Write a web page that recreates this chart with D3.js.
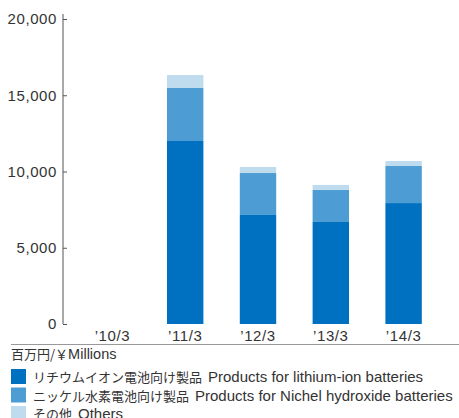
<!DOCTYPE html>
<html>
<head>
<meta charset="utf-8">
<script src="https://cdn.jsdelivr.net/npm/d3@7"></script>
<style>
  body { margin: 0; background: #fff; }
  text { font-family: "Liberation Sans", Arial, "Noto Sans CJK JP", sans-serif; fill: #333; }
  .jp { font-family: "Noto Sans CJK JP", sans-serif; }
</style>
</head>
<body>
<div id="chart"></div>
<script>
// data
const years = ["’10/3", "’11/3", "’12/3", "’13/3", "’14/3"];
const lithium = [0, 12000, 7150, 6690, 7930];
const nickel = [0, 3475, 2750, 2100, 2430];
const others = [0, 850, 395, 330, 330];
const yTicks = [0, 5000, 10000, 15000, 20000];

const seriesKeys = ["lithium", "nickel", "others"];
const seriesColors = {lithium: "#0070c0", nickel: "#4d9dd4", others: "#bfdcef"};
const legendJp = ["リチウムイオン電池向け製品", "ニッケル水素電池向け製品", "その他"];
const legendEn = ["Products for lithium-ion batteries", "Products for Nichel hydroxide batteries", "Others"];

const width = 459, height = 418;

const svg = d3.select("#chart").append("svg")
    .attr("width", width)
    .attr("height", height);

let rows = years.map((y, i) => ({year: y, lithium: lithium[i], nickel: nickel[i], others: others[i]}));
let stacked = d3.stack().keys(seriesKeys)(rows);

// scales
let x = d3.scaleBand()
    .domain(years)
    .range([76, 440])
    .paddingInner(0.5)
    .paddingOuter(0.25);

let y = d3.scaleLinear()
    .domain([0, 20000])
    .range([324, 19]);

// bars
svg.append("g").selectAll("g")
    .data(stacked)
    .enter().append("g")
    .attr("fill", d => seriesColors[d.key])
    .selectAll("rect")
    .data(d => d)
    .enter().append("rect")
    .attr("x", d => x(d.data.year))
    .attr("width", x.bandwidth())
    .attr("y", d => y(d[1]))
    .attr("height", d => y(d[0]) - y(d[1]));

// y axis
let yAxis = d3.axisRight(y)
    .tickValues(yTicks)
    .tickSize(4)
    .tickFormat(d3.format(","));

let yAxisGroup = svg.append("g")
    .attr("transform", "translate(63,0)")
    .call(yAxis);
yAxisGroup.select(".domain").attr("d", "M0,14V324").attr("stroke", "#555");
yAxisGroup.selectAll(".tick line").attr("stroke", "#555");
yAxisGroup.selectAll(".tick text")
    .attr("x", -6)
    .attr("text-anchor", "end")
    .attr("font-size", 15)
    .attr("letter-spacing", 0.6)
    .attr("fill", "#333");

// x labels
let xAxis = d3.axisBottom(x).tickSize(0).tickPadding(0);
let xAxisGroup = svg.append("g")
    .attr("transform", "translate(0,329)")
    .call(xAxis);
xAxisGroup.select(".domain").remove();
xAxisGroup.selectAll(".tick text")
    .attr("dy", "0.8em")
    .attr("font-size", 15)
    .attr("letter-spacing", 0.6)
    .attr("fill", "#333");

// separator line
svg.append("line")
    .attr("x1", 11).attr("x2", 459)
    .attr("y1", 344.5).attr("y2", 344.5)
    .attr("stroke", "#999")
    .attr("stroke-width", 1);

// unit
let unit = svg.append("text")
    .attr("x", 11).attr("y", 359);
unit.append("tspan").attr("class", "jp").attr("font-size", 13).text("百万円/￥");
unit.append("tspan").attr("font-size", 14.5).text("Millions");

// legend
let legend = svg.append("g").selectAll("g")
    .data(seriesKeys)
    .enter().append("g")
    .attr("transform", (d, i) => `translate(11,${369 + i * 18.5})`);

legend.append("rect")
    .attr("width", 15).attr("height", 15)
    .attr("fill", d => seriesColors[d]);

let legendText = legend.append("text")
    .attr("x", 22).attr("y", 13);
legendText.append("tspan")
    .attr("class", "jp")
    .attr("font-size", 13)
    .text((d, i) => legendJp[i]);
legendText.append("tspan")
    .attr("dx", 6)
    .attr("font-size", 15)
    .text((d, i) => legendEn[i]);
</script>
</body>
</html>
